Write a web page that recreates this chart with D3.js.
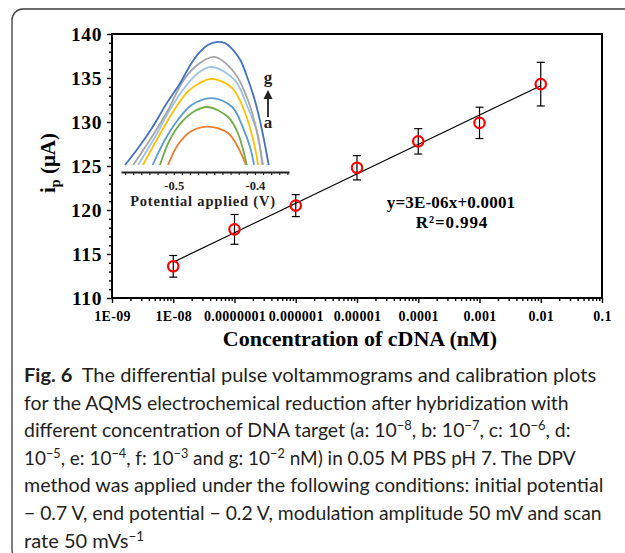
<!DOCTYPE html>
<html>
<head>
<meta charset="utf-8">
<script src="https://cdn.jsdelivr.net/npm/d3@7"></script>
<style>
  body { margin: 0; background: #fff; }
  svg { display: block; }
  .serif { font-family: "Liberation Serif", "Times New Roman", serif; font-weight: bold; }
  .caption { font-family: Lato, "Open Sans", sans-serif; font-size: 19.5px; fill: #231f20; }
</style>
</head>
<body>
<svg width="625" height="553"></svg>
<script>
// calibration plot
var concentrations = [1e-8, 1e-7, 1e-6, 1e-5, 1e-4, 1e-3, 1e-2];
var currents = [113.6, 117.8, 120.5, 124.8, 127.8, 129.9, 134.3];
var errors = [1.23, 1.69, 1.25, 1.38, 1.44, 1.78, 2.48];
var xTickValues = [1e-9, 1e-8, 1e-7, 1e-6, 1e-5, 1e-4, 1e-3, 1e-2, 1e-1];
var xTickLabels = ["1E-09", "1E-08", "0.0000001", "0.000001", "0.00001", "0.0001", "0.001", "0.01", "0.1"];
var yTickValues = [110, 115, 120, 125, 130, 135, 140];

// inset voltammograms (potential V, current arbitrary)
var insetNames = ["a", "b", "c", "d", "e", "f", "g"];
var insetColors = ["#ED7D31", "#70AD47", "#5B9BD5", "#FFC000", "#9DC3E6", "#A5A5A5", "#4472C4"];
var curveA = [[-0.507,0],[-0.495,1.54],[-0.480,2.54],[-0.465,2.92],[-0.452,2.92],[-0.433,2.46],[-0.421,1.38],[-0.411,0]];
var curveB = [[-0.517,0],[-0.505,1.92],[-0.490,3.31],[-0.474,4.15],[-0.458,4.46],[-0.433,3.69],[-0.421,2.46],[-0.410,0]];
var curveC = [[-0.526,0],[-0.511,1.92],[-0.495,3.46],[-0.478,4.62],[-0.453,5.15],[-0.428,4.46],[-0.415,2.92],[-0.406,1.38],[-0.401,0]];
var curveD = [[-0.538,0],[-0.519,2.15],[-0.501,4.08],[-0.483,5.62],[-0.468,6.31],[-0.453,6.62],[-0.428,5.92],[-0.412,4.0],[-0.402,1.92],[-0.396,0]];
var curveE = [[-0.544,0],[-0.523,2.15],[-0.505,4.23],[-0.486,6.0],[-0.470,7.08],[-0.453,7.54],[-0.425,6.54],[-0.409,4.46],[-0.397,2.46],[-0.391,0]];
var curveF = [[-0.550,0],[-0.527,2.15],[-0.507,4.23],[-0.490,6.31],[-0.474,7.54],[-0.450,8.31],[-0.425,7.08],[-0.410,5.23],[-0.400,3.23],[-0.390,0]];
var curveG = [[-0.560,0],[-0.542,1.46],[-0.526,2.92],[-0.510,4.62],[-0.492,6.31],[-0.478,7.85],[-0.468,8.69],[-0.458,9.23],[-0.448,9.46],[-0.437,9.38],[-0.427,8.85],[-0.418,8.08],[-0.410,6.85],[-0.402,5.38],[-0.396,4.0],[-0.390,2.31],[-0.383,0]];
var insetCurves = [curveA, curveB, curveC, curveD, curveE, curveF, curveG];
var insetTickLabels = [-0.5, -0.4];

var captionLines = [
  [["Fig. 6", "b"], ["The differential pulse voltammograms and calibration plots", "gap"]],
  [["for the AQMS electrochemical reduction after hybridization with", ""]],
  [["different concentration of DNA target (a: 10", ""], ["\u22128", "s"], [", b: 10", ""], ["\u22127", "s"], [", c: 10", ""], ["\u22126", "s"], [", d:", ""]],
  [["10", ""], ["\u22125", "s"], [", e: 10", ""], ["\u22124", "s"], [", f: 10", ""], ["\u22123", "s"], [" and g: 10", ""], ["\u22122", "s"], [" nM) in 0.05 M PBS pH 7. The DPV", ""]],
  [["method was applied under the following conditions: initial potential", ""]],
  [["\u2212 0.7 V, end potential \u2212 0.2 V, modulation amplitude 50 mV and scan", ""]],
  [["rate 50 mVs", ""], ["\u22121", "s"]]
];
var captionWidths = [563, 545, 547, 552, 580, 578, 120];

var svg = d3.select('svg');

// outer rounded frame (runs off the right and bottom edges)
svg.append('rect')
  .attr('x', 12).attr('y', 9)
  .attr('width', 700).attr('height', 552)
  .attr('rx', 11)
  .attr('fill', 'none')
  .attr('stroke', '#3a3a3a')
  .attr('stroke-width', 1.3);

var x = d3.scaleLog().domain([1e-9, 0.1]).range([112, 602]);
var y = d3.scaleLinear().domain([110, 140]).range([298, 34]);

// y axis
var yMinor = d3.range(110, 141).filter(d => d % 5 !== 0);
svg.append('g')
  .attr('transform', 'translate(112,0)')
  .call(d3.axisLeft(y).tickValues(yMinor).tickSize(3).tickFormat(''))
  .call(g => g.select('.domain').remove());
var yAxis = svg.append('g')
  .attr('class', 'serif')
  .attr('transform', 'translate(112,0)')
  .call(d3.axisLeft(y).tickValues(yTickValues).tickSize(5).tickPadding(5))
  .call(g => g.select('.domain').remove());
yAxis.selectAll('text')
  .attr('font-size', 19.5)
  .attr('letter-spacing', 0.6)
  .attr('fill', '#000');

// x axis
var xMinor = x.ticks().filter(d => xTickValues.every(t => Math.abs(t - d) / t > 1e-6));
svg.append('g')
  .attr('transform', 'translate(0,298)')
  .call(d3.axisBottom(x).tickValues(xMinor).tickSize(3).tickFormat(''))
  .call(g => g.select('.domain').remove());
var xAxis = svg.append('g')
  .attr('class', 'serif')
  .attr('transform', 'translate(0,298)')
  .call(d3.axisBottom(x).tickValues(xTickValues).tickSize(5).tickPadding(8)
    .tickFormat((d, i) => xTickLabels[i]))
  .call(g => g.select('.domain').remove());
xAxis.selectAll('text')
  .attr('font-size', 14)
  .attr('letter-spacing', 0.3)
  .attr('fill', '#000');

svg.selectAll('.tick line').attr('stroke', '#000').attr('stroke-width', 1.4);

// plot frame
svg.append('rect')
  .attr('x', 112).attr('y', 34)
  .attr('width', 490).attr('height', 264)
  .attr('fill', 'none')
  .attr('stroke', '#000')
  .attr('stroke-width', 2);

// linear fit on log10 concentration
var lx = concentrations.map(c => Math.log10(c));
var mx = d3.mean(lx), my = d3.mean(currents);
var sxy = d3.sum(lx, (v, i) => (v - mx) * (currents[i] - my));
var sxx = d3.sum(lx, v => (v - mx) * (v - mx));
var slope = sxy / sxx, icpt = my - slope * mx;
var fitEnds = [concentrations[0], concentrations[concentrations.length - 1]];
svg.append('path')
  .datum(fitEnds)
  .attr('fill', 'none')
  .attr('stroke', '#000')
  .attr('stroke-width', 1.2)
  .attr('d', d3.line().x(d => x(d)).y(d => y(icpt + slope * Math.log10(d))));

// error bars
var pts = concentrations.map((c, i) => ({ c: c, v: currents[i], e: errors[i] }));
var eb = svg.append('g').attr('stroke', '#000').attr('stroke-width', 1.2);
eb.selectAll('.stem').data(pts).enter().append('line')
  .attr('x1', d => x(d.c)).attr('x2', d => x(d.c))
  .attr('y1', d => y(d.v - d.e)).attr('y2', d => y(d.v + d.e));
eb.selectAll('.capTop').data(pts).enter().append('line')
  .attr('x1', d => x(d.c) - 4).attr('x2', d => x(d.c) + 4)
  .attr('y1', d => y(d.v + d.e)).attr('y2', d => y(d.v + d.e));
eb.selectAll('.capBot').data(pts).enter().append('line')
  .attr('x1', d => x(d.c) - 4).attr('x2', d => x(d.c) + 4)
  .attr('y1', d => y(d.v - d.e)).attr('y2', d => y(d.v - d.e));

// markers
svg.append('g').selectAll('circle').data(pts).enter().append('circle')
  .attr('cx', d => x(d.c)).attr('cy', d => y(d.v))
  .attr('r', 5.2)
  .attr('fill', 'none')
  .attr('stroke', '#ff0000')
  .attr('stroke-width', 2.2);

// equation
svg.append('text').attr('class', 'serif')
  .attr('x', 451).attr('y', 208).attr('text-anchor', 'middle')
  .attr('font-size', 17).attr('letter-spacing', 0.2).text('y=3E-06x+0.0001');
svg.append('text').attr('class', 'serif')
  .attr('x', 452).attr('y', 228).attr('text-anchor', 'middle')
  .attr('font-size', 17).attr('letter-spacing', 0.9).text('R\u00b2=0.994');

// axis titles
var yt = svg.append('text').attr('class', 'serif')
  .attr('transform', 'translate(55,163) rotate(-90)')
  .attr('text-anchor', 'middle')
  .attr('font-size', 21);
yt.append('tspan').text('i');
yt.append('tspan').attr('font-size', 14).attr('dy', 5).text('p');
yt.append('tspan').attr('dy', -5).text(' (\u03bcA)');

svg.append('text').attr('class', 'serif')
  .attr('x', 360).attr('y', 346).attr('text-anchor', 'middle')
  .attr('font-size', 22).text('Concentration of cDNA (nM)');

// inset
var ix = d3.scaleLinear().domain([-0.565, -0.358]).range([121, 289]);
var iy = d3.scaleLinear().domain([0, 10]).range([165, 35]);
var iline = d3.line().x(d => ix(d[0])).y(d => iy(d[1])).curve(d3.curveCatmullRom.alpha(0.5));

svg.append('g').selectAll('path').data(insetCurves).enter().append('path')
  .attr('fill', 'none')
  .attr('stroke', (d, i) => insetColors[i])
  .attr('stroke-width', 1.8)
  .attr('d', iline);

var insetMinor = d3.range(-56, -35).map(v => v / 100);
var ia = svg.append('g')
  .attr('transform', 'translate(0,172)')
  .call(d3.axisBottom(ix).tickValues(insetMinor).tickSize(3).tickSizeOuter(0).tickFormat(''));
ia.select('.domain').attr('stroke', '#222').attr('stroke-width', 2);
ia.selectAll('.tick line').attr('stroke', '#222').attr('stroke-width', 1.2);

var il = svg.append('g').attr('class', 'serif')
  .attr('transform', 'translate(0,172)')
  .call(d3.axisBottom(ix).tickValues(insetTickLabels).tickSize(0).tickPadding(9)
    .tickFormat(d => d3.format('.1f')(d).replace('\u2212', '-')));
il.select('.domain').remove();
il.selectAll('text').attr('font-size', 12.5).attr('fill', '#222');

svg.append('text').attr('class', 'serif')
  .attr('x', 203).attr('y', 206).attr('text-anchor', 'middle')
  .attr('font-size', 14.5).attr('letter-spacing', 0.8).attr('fill', '#222')
  .text('Potential applied (V)');

svg.append('text').attr('class', 'serif')
  .attr('x', 268).attr('y', 83).attr('text-anchor', 'middle')
  .attr('font-size', 17).attr('fill', '#222').text(insetNames[6]);
svg.append('text').attr('class', 'serif')
  .attr('x', 268).attr('y', 128).attr('text-anchor', 'middle')
  .attr('font-size', 17).attr('fill', '#222').text(insetNames[0]);
svg.append('path')
  .attr('d', 'M268,117V93')
  .attr('stroke', '#222').attr('stroke-width', 1.8);
svg.append('path')
  .attr('d', 'M263.5,99L268,90L272.5,99Z')
  .attr('fill', '#222');

// caption
captionLines.forEach(function (line, i) {
  var t = svg.append('text').attr('class', 'caption');
  var raised = false;
  line.forEach(function (seg) {
    var ts = t.append('tspan').text(seg[0]);
    if (seg[1] === 'b') ts.attr('font-weight', 'bold');
    if (seg[1] === 'gap') ts.attr('dx', 9);
    if (seg[1] === 's') { ts.attr('font-size', 13).attr('dy', -7); raised = true; }
    else if (raised) { ts.attr('dy', 7); raised = false; }
  });
  var w = t.node().getComputedTextLength();
  var sx = captionWidths[i] / w;
  t.attr('transform', 'translate(24,' + (382 + i * 27.6) + ') scale(' + sx + ',1)');
});
</script>
</body>
</html>
